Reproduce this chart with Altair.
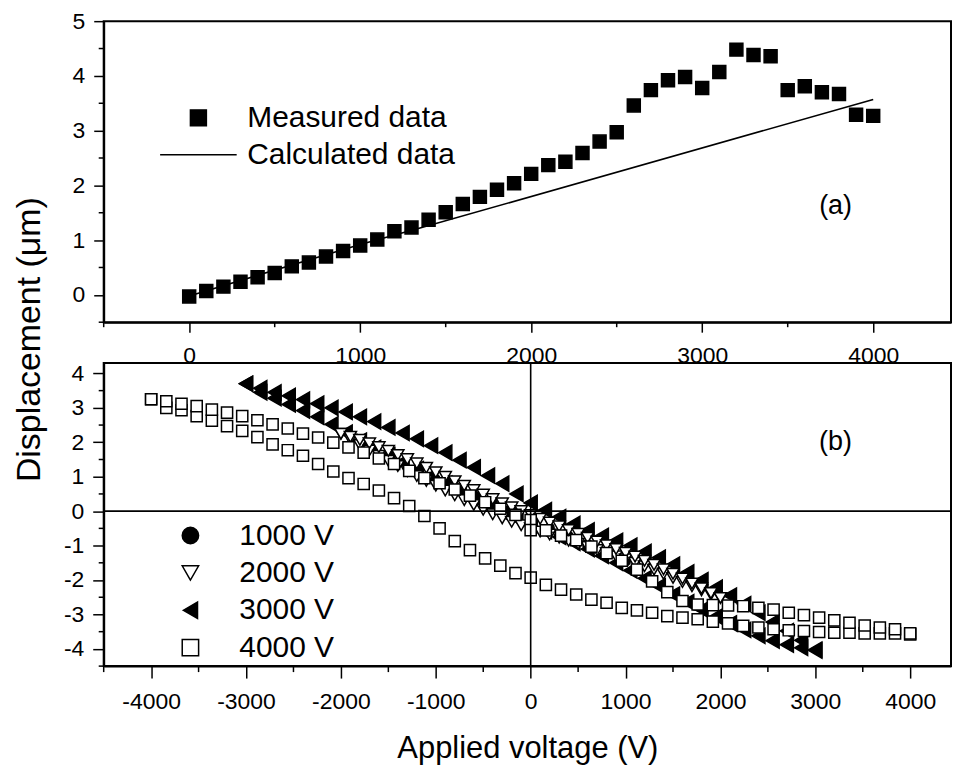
import altair as alt
import pandas as pd

FONT = "Liberation Sans"

# ---------------- panel (a) ----------------
A_V = [0, 100, 200, 300, 400, 500, 600, 700, 800, 900, 1000, 1100, 1200, 1300, 1400,
       1500, 1600, 1700, 1800, 1900, 2000, 2100, 2200, 2300, 2400, 2500, 2600, 2700,
       2800, 2900, 3000, 3100, 3200, 3300, 3400, 3500, 3600, 3700, 3800, 3900, 4000]
A_MEAS = [-0.03, 0.07, 0.15, 0.24, 0.32, 0.40, 0.52, 0.59, 0.70, 0.80, 0.90, 1.01, 1.16,
          1.23, 1.37, 1.51, 1.66, 1.79, 1.92, 2.04, 2.21, 2.37, 2.43, 2.59, 2.80, 2.97,
          3.46, 3.74, 3.92, 3.98, 3.78, 4.07, 4.48, 4.38, 4.36, 3.74, 3.81, 3.70, 3.67,
          3.29, 3.27]
A_CALC_V = [0, 1000, 1350, 4000]
A_CALC = [-0.02, 0.92, 1.22, 3.57]
A_LEGEND = ["Measured data", "Calculated data"]
A_XMAJOR = [0, 1000, 2000, 3000, 4000]
A_XMINOR = [-500, 500, 1500, 2500, 3500]
A_YMAJOR = [0, 1, 2, 3, 4, 5]
A_YMINOR = [-0.5, 0.5, 1.5, 2.5, 3.5, 4.5]
A_NOTE = {"v": [3780], "d": [1.62], "t": ["(a)"]}

# ---------------- panel (b) ----------------
B_SERIES = ["1000 V", "2000 V", "3000 V", "4000 V"]

B1_GRID = [-1000, -800, -600, -400, -200, 0, 200, 400, 600, 800, 1000]
B1_LOWER = [0.92, 0.66, 0.42, 0.18, -0.06, -0.30, -0.55, -0.80, -1.02, -1.25, -1.46]
B1_UPPER = [0.92, 0.72, 0.48, 0.25, 0.02, -0.22, -0.48, -0.72, -0.95, -1.20, -1.46]

B2_GRID = [-2000, -1900, -1800, -1700, -1600, -1500, -1400, -1300, -1200, -1100, -1000,
           -900, -800, -700, -600, -500, -400, -300, -200, -100, 0, 100, 200, 300, 400,
           500, 600, 700, 800, 900, 1000, 1100, 1200, 1300, 1400, 1500, 1600, 1700, 1800,
           1900, 2000]
B2_UPPER = [2.25, 2.16, 2.07, 1.97, 1.86, 1.75, 1.63, 1.51, 1.39, 1.26, 1.13, 1.00, 0.87,
            0.74, 0.61, 0.48, 0.35, 0.23, 0.11, 0.00, -0.11, -0.22, -0.33, -0.44, -0.55,
            -0.66, -0.77, -0.88, -0.99, -1.10, -1.21, -1.32, -1.44, -1.56, -1.69, -1.82,
            -1.96, -2.10, -2.24, -2.38, -2.52]
B2_LOWER = [2.25, 2.08, 1.92, 1.76, 1.61, 1.46, 1.31, 1.16, 1.02, 0.88, 0.74, 0.60, 0.46,
            0.32, 0.18, 0.04, -0.09, -0.21, -0.31, -0.41, -0.50, -0.59, -0.68, -0.77,
            -0.86, -0.95, -1.04, -1.13, -1.22, -1.31, -1.40, -1.50, -1.60, -1.70, -1.82,
            -1.94, -2.06, -2.18, -2.30, -2.42, -2.52]

B3_GRID = [-3000, -2850, -2700, -2550, -2400, -2250, -2100, -1950, -1800, -1650, -1500,
           -1350, -1200, -1050, -900, -750, -600, -450, -300, -150, 0, 150, 300, 450, 600,
           750, 900, 1050, 1200, 1350, 1500, 1650, 1800, 1950, 2100, 2250, 2400, 2550,
           2700, 2850, 3000]
B3_UPPER = [3.70, 3.57, 3.45, 3.35, 3.24, 3.12, 3.00, 2.88, 2.74, 2.60, 2.43, 2.27, 2.10,
            1.90, 1.70, 1.48, 1.27, 1.03, 0.80, 0.50, 0.24, 0.03, -0.17, -0.37, -0.56,
            -0.72, -0.86, -1.00, -1.18, -1.35, -1.55, -1.78, -2.00, -2.22, -2.45, -2.70,
            -2.95, -3.22, -3.48, -3.75, -4.02]
B3_LOWER = [3.70, 3.45, 3.28, 3.10, 2.92, 2.74, 2.52, 2.28, 2.05, 1.84, 1.63, 1.43, 1.22,
            1.02, 0.80, 0.57, 0.35, 0.14, -0.05, -0.22, -0.40, -0.58, -0.75, -0.92, -1.10,
            -1.30, -1.50, -1.72, -1.95, -2.18, -2.42, -2.64, -2.86, -3.06, -3.26, -3.45,
            -3.62, -3.76, -3.88, -3.97, -4.05]

B4_GRID = [-4000, -3840, -3680, -3520, -3360, -3200, -3040, -2880, -2720, -2560, -2400,
           -2240, -2080, -1920, -1760, -1600, -1440, -1280, -1120, -960, -800, -640, -480,
           -320, -160, 0, 160, 320, 480, 640, 800, 960, 1120, 1280, 1440, 1600, 1760, 1920,
           2080, 2240, 2400, 2560, 2720, 2880, 3040, 3200, 3360, 3520, 3680, 3840, 4000]
B4_UPPER = [3.25, 3.19, 3.12, 3.05, 2.95, 2.86, 2.76, 2.64, 2.52, 2.40, 2.25, 2.14, 1.99,
            1.85, 1.70, 1.53, 1.37, 1.17, 0.96, 0.81, 0.63, 0.45, 0.26, 0.07, -0.11, -0.26,
            -0.56, -0.71, -0.84, -1.03, -1.22, -1.44, -1.70, -2.04, -2.35, -2.61, -2.71,
            -2.73, -2.74, -2.76, -2.81, -2.86, -2.95, -3.02, -3.09, -3.17, -3.24, -3.32,
            -3.38, -3.43, -3.55]
B4_LOWER = [3.25, 3.00, 2.93, 2.76, 2.63, 2.47, 2.33, 2.15, 1.94, 1.77, 1.61, 1.37, 1.15,
            0.96, 0.79, 0.60, 0.38, 0.15, -0.14, -0.50, -0.87, -1.13, -1.37, -1.58, -1.80,
            -1.93, -2.14, -2.28, -2.42, -2.57, -2.66, -2.81, -2.88, -2.95, -3.05, -3.09,
            -3.14, -3.21, -3.26, -3.33, -3.38, -3.43, -3.46, -3.48, -3.51, -3.53, -3.53,
            -3.55, -3.55, -3.55, -3.58]
B4_EXTRA_V = [0]
B4_EXTRA_D = [-0.55]

B_XMAJOR = [-4000, -3000, -2000, -1000, 0, 1000, 2000, 3000, 4000]
B_XMINOR = [-4500, -3500, -2500, -1500, -500, 500, 1500, 2500, 3500]
B_YMAJOR = [-4, -3, -2, -1, 0, 1, 2, 3, 4]
B_YMINOR = [-4.5, -3.5, -2.5, -1.5, -0.5, 0.5, 1.5, 2.5, 3.5]
B_NOTE = {"v": [3213], "d": [2.02], "t": ["(b)"]}


def table(series, pairs):
    xs, ys = [], []
    for gx, gy in pairs:
        xs += list(gx)
        ys += list(gy)
    return pd.DataFrame({"v": xs, "d": ys, "sb": series})


meas = pd.DataFrame({"v": A_V, "d": A_MEAS, "sa": A_LEGEND[0]})
calc = pd.DataFrame({"v": A_CALC_V, "d": A_CALC})
t1000 = table("1000 V", [(B1_GRID, B1_LOWER), (B1_GRID, B1_UPPER)])
t2000 = table("2000 V", [(B2_GRID, B2_LOWER), (B2_GRID, B2_UPPER)])
t3000 = table("3000 V", [(B3_GRID, B3_LOWER), (B3_GRID, B3_UPPER)])
t4000 = table("4000 V", [(B4_GRID, B4_LOWER), (B4_GRID, B4_UPPER),
                         (B4_EXTRA_V, B4_EXTRA_D)])

LBL = "'' + datum.value"


def major_axis(values, size, pad, **kw):
    return alt.Axis(values=values, labelExpr=LBL, tickSize=size, labelOverlap=False,
                    labelFlush=False, grid=False, labelFontSize=23, labelPadding=pad, **kw)


# ---------------- panel (a) chart ----------------
WA, HA = 850, 302
ax_x = alt.X("v:Q", scale=alt.Scale(domain=[-500, 4455], nice=False, zero=False),
             axis=major_axis(A_XMAJOR, 10, 12, title=None))
ax_y = alt.Y("d:Q", scale=alt.Scale(domain=[-0.5, 5], nice=False, zero=False),
             axis=major_axis(A_YMAJOR, 10, 9,
                             title="Displacement (μm)", titleX=-74, titleY=319,
                             titleAngle=270, titleAlign="center", titleBaseline="middle",
                             titleFontSize=34))

pts_a = alt.Chart(meas).mark_point(filled=True, size=169, opacity=1).encode(
    x=ax_x, y=ax_y,
    fill=alt.value("black"),
    stroke=alt.value("black"),
    strokeWidth=alt.value(1.5),
    shape=alt.Shape("sa:N",
                    scale=alt.Scale(domain=A_LEGEND, range=["square", "M-4.8,0H4.8"]),
                    legend=alt.Legend(title=None, orient="none", legendX=80, legendY=82,
                                      symbolSize=256, labelFontSize=30, labelOffset=34,
                                      labelLimit=0, rowPadding=7,
                                      symbolStrokeWidth=1.5,
                                      symbolOpacity=1, labelColor="black", labelFont=FONT)),
)
line_a = alt.Chart(calc).mark_line(color="black", strokeWidth=1.6).encode(x=ax_x, y=ax_y)
note_a = alt.Chart(pd.DataFrame(A_NOTE)).mark_text(
    font=FONT, fontSize=27, color="black", align="center", baseline="middle").encode(
    x=ax_x, y=ax_y, text="t:N")
minx_a = alt.Chart(pd.DataFrame({"v": A_XMINOR})).mark_rule(
    color="black", strokeWidth=1.5).encode(x=ax_x, y=alt.value(HA), y2=alt.value(HA + 5))
miny_a = alt.Chart(pd.DataFrame({"d": A_YMINOR})).mark_rule(
    color="black", strokeWidth=1.5).encode(y=ax_y, x=alt.value(0), x2=alt.value(-5))

panel_a = alt.layer(line_a, pts_a, note_a, minx_a, miny_a).properties(width=WA, height=HA)

# ---------------- panel (b) chart ----------------
WB, HB = 850, 304
bx = alt.X("v:Q", scale=alt.Scale(domain=[-4500, 4430], nice=False, zero=False),
           axis=major_axis(B_XMAJOR, 12, 13, title="Applied voltage (V)", titleY=92,
                           titleBaseline="alphabetic", titleFontSize=31))
by = alt.Y("d:Q", scale=alt.Scale(domain=[-4.5, 4.3], nice=False, zero=False),
           axis=major_axis(B_YMAJOR, 11, 9, title=None))

leg_b = alt.Legend(title=None, orient="none", legendX=72, legendY=158, symbolSize=270,
                   labelFontSize=30, labelOffset=34, labelLimit=0, rowPadding=7.5,
                   symbolStrokeWidth=1.5, symbolOpacity=1,
                   labelColor="black", labelFont=FONT)
shape_b = alt.Shape("sb:N", scale=alt.Scale(
    domain=B_SERIES, range=["circle", "triangle-down", "triangle-left", "square"]),
    legend=leg_b)
fill_b = alt.Fill("sb:N", scale=alt.Scale(
    domain=B_SERIES, range=["black", "white", "black", "white"]), legend=leg_b)


def loop_layer(df, size):
    return alt.Chart(df).mark_point(filled=True, size=size, opacity=1).encode(
        x=bx, y=by, shape=shape_b, fill=fill_b,
        stroke=alt.value("black"), strokeWidth=alt.value(1.5))


hrule = alt.Chart(pd.DataFrame({"d": [0]})).mark_rule(color="black", strokeWidth=1.6).encode(
    y=by)
vrule = alt.Chart(pd.DataFrame({"v": [0]})).mark_rule(color="black", strokeWidth=1.6).encode(
    x=bx)
note_b = alt.Chart(pd.DataFrame(B_NOTE)).mark_text(
    font=FONT, fontSize=27, color="black", align="center", baseline="middle").encode(
    x=bx, y=by, text="t:N")
minx_b = alt.Chart(pd.DataFrame({"v": B_XMINOR})).mark_rule(
    color="black", strokeWidth=1.5).encode(x=bx, y=alt.value(HB), y2=alt.value(HB + 6))
miny_b = alt.Chart(pd.DataFrame({"d": B_YMINOR})).mark_rule(
    color="black", strokeWidth=1.5).encode(y=by, x=alt.value(0), x2=alt.value(-5))

panel_b = alt.layer(
    loop_layer(t1000, 80), loop_layer(t3000, 230), loop_layer(t2000, 150),
    loop_layer(t4000, 125), hrule, vrule, note_b, minx_b, miny_b
).properties(width=WB, height=HB)

chart = alt.vconcat(panel_a, panel_b, spacing=41, bounds="flush").resolve_scale(
    shape="independent", fill="independent"
).resolve_legend(
    shape="independent", fill="independent"
).properties(
    padding={"left": 4, "top": 0, "right": 0, "bottom": 0},
    background="white",
).configure_view(
    stroke="black", strokeWidth=2
).configure_axis(
    labelFont=FONT, labelColor="black", titleFont=FONT, titleColor="black",
    titleFontWeight="normal", domainColor="black", domainWidth=2,
    tickColor="black", tickWidth=1.5,
).configure_legend(
    labelFont=FONT, labelColor="black"
)

chart.save("out.html", embed_options={"renderer": "svg", "actions": False})
